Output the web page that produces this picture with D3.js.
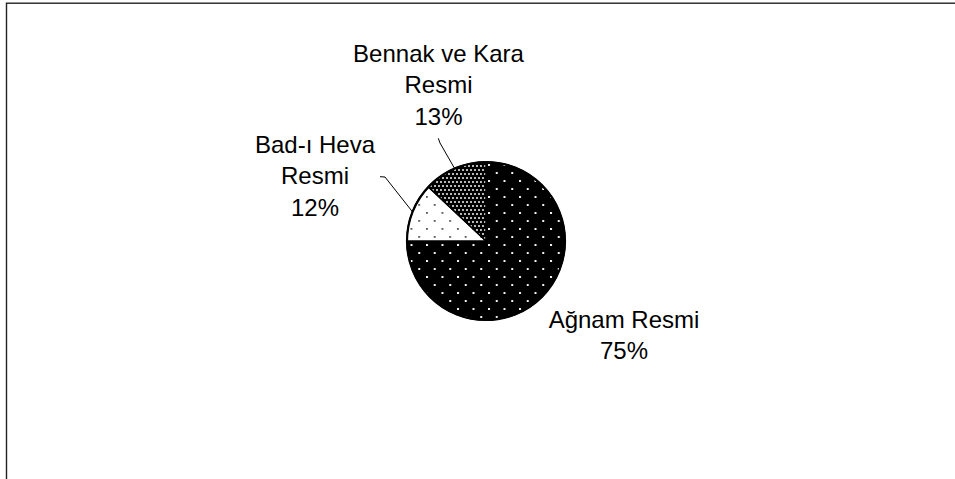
<!DOCTYPE html>
<html>
<head>
<meta charset="utf-8">
<script src="https://cdn.jsdelivr.net/npm/d3@7"></script>
<style>
  html, body { margin: 0; padding: 0; background: #fff; }
  svg { display: block; }
</style>
</head>
<body>
<svg id="chart" width="955" height="479"></svg>
<script>
// ---- data ----
const categories = ["Ağnam Resmi", "Bad-ı Heva Resmi", "Bennak ve Kara Resmi"];
const labelLines = [["Ağnam Resmi"], ["Bad-ı Heva", "Resmi"], ["Bennak ve Kara", "Resmi"]];
const values = [75, 12, 13];

// ---- layout (not data) ----
const W = 955, H = 479;
const cx = 486, cy = 241, R = 79;
const fontSize = 24, lineH = 31.5;
const labelAnchor = [ [624, 327.5], [315, 152.7], [438.5, 61.7] ];   // centre x, first baseline
const leaderStart = [ null, [[380, 176.7], [385, 177]], [[438.3, 138.3], [440, 143]] ];
const fills = ["url(#patA)", "url(#patB)", "url(#patC)"];

const svg = d3.select("#chart");
const defs = svg.append("defs");

// Ağnam: black with sparse light dots (staggered)
const pA = defs.append("pattern").attr("id", "patA").attr("patternUnits", "userSpaceOnUse")
  .attr("width", 15.5).attr("height", 16).attr("x", 2).attr("y", 3);
pA.append("rect").attr("width", 15.5).attr("height", 16).attr("fill", "#000");
pA.append("rect").attr("x", 0).attr("y", 0).attr("width", 2).attr("height", 2).attr("fill", "#f2f2f2");
pA.append("rect").attr("x", 7.75).attr("y", 8).attr("width", 2).attr("height", 2).attr("fill", "#f2f2f2");

// Bad-ı Heva: white with sparse dark dots
const pB = defs.append("pattern").attr("id", "patB").attr("patternUnits", "userSpaceOnUse")
  .attr("width", 15.5).attr("height", 16).attr("x", 2).attr("y", 3);
pB.append("rect").attr("width", 15.5).attr("height", 16).attr("fill", "#fff");
pB.append("rect").attr("x", 0).attr("y", 0).attr("width", 1.8).attr("height", 1.8).attr("fill", "#555");
pB.append("rect").attr("x", 7.75).attr("y", 8).attr("width", 1.8).attr("height", 1.8).attr("fill", "#555");

// Bennak: black with dense light dots
const pC = defs.append("pattern").attr("id", "patC").attr("patternUnits", "userSpaceOnUse")
  .attr("width", 8).attr("height", 8).attr("x", 0).attr("y", 0);
pC.append("rect").attr("width", 8).attr("height", 8).attr("fill", "#000");
[[0,0],[4,0],[2,4],[6,4]].forEach(([x,y]) =>
  pC.append("rect").attr("x", x).attr("y", y).attr("width", 2).attr("height", 2).attr("fill", "#b8b8b8"));

// frame
svg.append("rect").attr("x", 6.5).attr("y", 3.2).attr("width", W + 20).attr("height", H + 20)
  .attr("fill", "none").attr("stroke", "#222").attr("stroke-width", 1.4);

// pie
const pie = d3.pie().sort(null).value(d => d)(values);
const arc = d3.arc().innerRadius(0).outerRadius(R);
const edgeArc = d3.arc().innerRadius(R).outerRadius(R);

const g = svg.append("g").attr("transform", `translate(${cx},${cy})`);
g.selectAll("path.slice").data(pie).join("path")
  .attr("class", "slice")
  .attr("d", arc)
  .attr("fill", (d, i) => fills[i])
  .attr("stroke", "#000").attr("stroke-width", 1.5).attr("stroke-linejoin", "round");
g.append("circle").attr("r", R).attr("fill", "none").attr("stroke", "#000").attr("stroke-width", 2.2);

// leader lines
pie.forEach((d, i) => {
  if (!leaderStart[i]) return;
  const end = edgeArc.centroid(d);
  const pts = leaderStart[i].concat([[cx + end[0], cy + end[1]]]);
  svg.append("path").attr("d", d3.line()(pts))
    .attr("fill", "none").attr("stroke", "#000").attr("stroke-width", 1);
});

// labels
const fmt = v => d3.format(".0f")(v) + "%";
const total = d3.sum(values);
pie.forEach((d, i) => {
  const [x, y] = labelAnchor[i];
  const lines = labelLines[i].concat([fmt(values[i] / total * 100)]);
  const t = svg.append("text")
    .attr("x", x).attr("y", y)
    .attr("text-anchor", "middle")
    .attr("font-family", "'Liberation Sans', Arial, Helvetica, sans-serif")
    .attr("font-size", fontSize).attr("fill", "#000");
  lines.forEach((s, k) => {
    t.append("tspan").attr("x", x).attr("y", y + k * lineH).text(s);
  });
});
</script>
</body>
</html>
